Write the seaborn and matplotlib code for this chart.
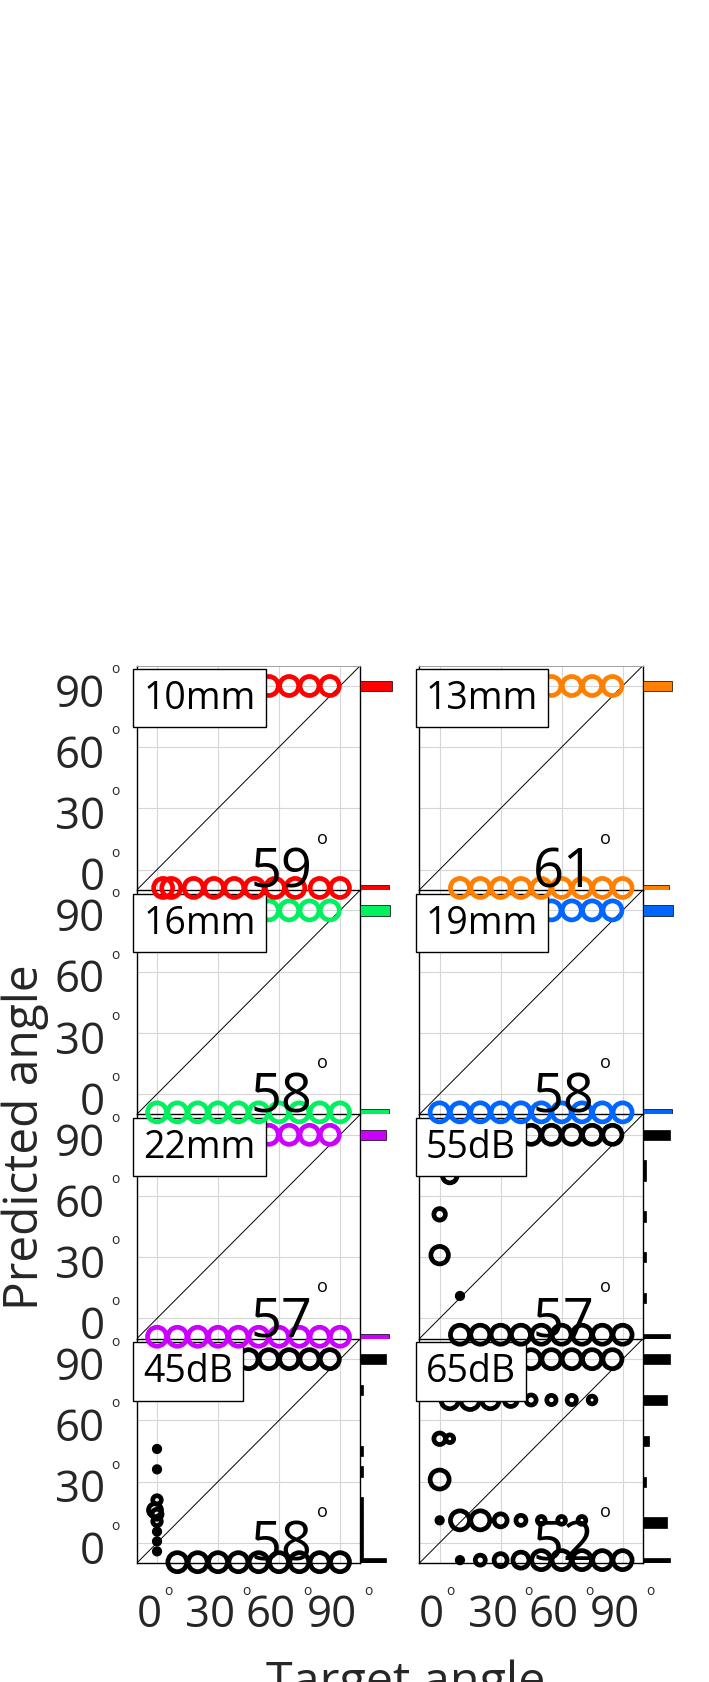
import numpy as np
import matplotlib
matplotlib.use('Agg')
import matplotlib.pyplot as plt
import matplotlib.transforms as mtransforms
import seaborn as sns

# ==============================
# 1. Data
# ==============================
panel_labels = ['10mm', '13mm', '16mm', '19mm', '22mm', '55dB', '45dB', '65dB']
panel_colors = ['#ff0000', '#ff8000', '#00f060', '#0066ff', '#cc00ff',
                '#000000', '#000000', '#000000']
panel_scores = [59, 61, 58, 58, 57, 57, 58, 52]

tick_values = [0, 30, 60, 90]
tick_labels = ['0', '30', '60', '90']

# target angle / predicted angle / number of responses (marker size)
x_10mm = [5, 15, 25, 35, 45, 55, 65, 75, 85, 3, 7, 18, 28, 38, 48, 58, 68, 80, 90]
y_10mm = [90, 90, 90, 90, 90, 90, 90, 90, 90, -9, -9, -9, -9, -9, -9, -9, -9, -9, -9]
n_10mm = [10, 10, 10, 10, 10, 10, 10, 10, 10, 10, 10, 10, 10, 10, 10, 10, 10, 10, 10]

x_13mm = [5, 15, 25, 35, 45, 55, 65, 75, 85, 10, 20, 30, 40, 50, 60, 70, 80, 90]
y_13mm = [90, 90, 90, 90, 90, 90, 90, 90, 90, -9, -9, -9, -9, -9, -9, -9, -9, -9]
n_13mm = [10, 10, 10, 10, 10, 10, 10, 10, 10, 10, 10, 10, 10, 10, 10, 10, 10, 10]

x_16mm = [5, 15, 25, 35, 45, 55, 65, 75, 85, 0, 10, 20, 30, 40, 50, 60, 70, 80, 90]
y_16mm = [90, 90, 90, 90, 90, 90, 90, 90, 90, -9, -9, -9, -9, -9, -9, -9, -9, -9, -9]
n_16mm = [10, 10, 10, 10, 10, 10, 10, 10, 10, 10, 10, 10, 10, 10, 10, 10, 10, 10, 10]

x_19mm = [5, 15, 25, 35, 45, 55, 65, 75, 85, 0, 10, 20, 30, 40, 50, 60, 70, 80, 90]
y_19mm = [90, 90, 90, 90, 90, 90, 90, 90, 90, -9, -9, -9, -9, -9, -9, -9, -9, -9, -9]
n_19mm = [10, 10, 10, 10, 10, 10, 10, 10, 10, 10, 10, 10, 10, 10, 10, 10, 10, 10, 10]

x_22mm = [5, 15, 25, 35, 45, 55, 65, 75, 85, 0, 10, 20, 30, 40, 50, 60, 70, 80, 90]
y_22mm = [90, 90, 90, 90, 90, 90, 90, 90, 90, -9, -9, -9, -9, -9, -9, -9, -9, -9, -9]
n_22mm = [10, 10, 10, 10, 10, 10, 10, 10, 10, 10, 10, 10, 10, 10, 10, 10, 10, 10, 10]

x_55dB = [5, 15, 25, 35, 45, 55, 65, 75, 85, 5, 0, 0, 10,
          10, 20, 30, 40, 50, 60, 70, 80, 90]
y_55dB = [90, 90, 90, 90, 90, 90, 90, 90, 90, 70, 51, 31, 11,
          -8, -8, -8, -8, -8, -8, -8, -8, -8]
n_55dB = [10, 10, 10, 10, 10, 10, 10, 10, 10, 7, 5, 9, 1,
          10, 10, 10, 10, 10, 10, 10, 10, 10]

x_45dB = [5, 15, 25, 35, 45, 55, 65, 75, 85, 0, 0, 0, -1, 0, 0, 0, 0, 0,
          10, 20, 30, 40, 50, 60, 70, 80, 90]
y_45dB = [90, 90, 90, 90, 90, 90, 90, 90, 90, 46, 36, 21, 16, 14, 10.5, 5.5, 0.7, -4.2,
          -9.5, -9.5, -9.5, -9.5, -9.5, -9.5, -9.5, -9.5, -9.5]
n_45dB = [10, 10, 10, 10, 10, 10, 10, 10, 10, 1, 1, 3, 6, 4, 3, 1, 1, 1,
          10, 10, 10, 10, 10, 10, 10, 10, 10]

x_65dB = [5, 15, 25, 35, 45, 55, 65, 75, 85,
          5, 15, 25, 35, 45, 55, 65, 75,
          0, 5, 0,
          0, 10, 20, 30, 40, 50, 60, 70,
          10, 20, 30, 40, 50, 60, 70, 80, 90]
y_65dB = [90, 90, 90, 90, 90, 90, 90, 90, 90,
          70, 70, 70, 70, 70, 70, 70, 70,
          51, 51, 31,
          11, 11, 11, 11, 11, 11, 11, 11,
          -8.5, -8.5, -8.5, -8.5, -8.5, -8.5, -8.5, -8.5, -8.5]
n_65dB = [10, 10, 10, 10, 10, 10, 10, 10, 10,
          9, 10, 9, 6, 4, 3.5, 3.5, 2.5,
          5, 2.5, 10,
          1, 10, 10, 6, 4, 2.5, 2.5, 2.5,
          1, 4, 6, 8, 10, 10, 10, 10, 10]

# marginal histograms of predicted angle (bin centre, count)
hy_10mm, hc_10mm = [90, -10], [10.7, 9.6]
hy_13mm, hc_13mm = [90, -10], [9.8, 8.8]
hy_16mm, hc_16mm = [90, -10], [10.0, 9.6]
hy_19mm, hc_19mm = [90, -10], [10.0, 9.8]
hy_22mm, hc_22mm = [90, -10], [8.7, 9.5]
hy_55dB, hc_55dB = [90, 75, 70, 50, 30, 10, -10], [9, 1, 1, 1, 1, 1, 9]
hy_45dB = [90, 75, 45, 35, 20, 15, 10, 5, 0, -5, -10]
hc_45dB = [8.7, 1, 1, 1, 0.9, 0.9, 0.9, 0.9, 0.9, 0.9, 8.7]
hy_65dB, hc_65dB = [90, 70, 50, 30, 10, -10], [9, 8, 2, 1.1, 8, 9]

points = [(x_10mm, y_10mm, n_10mm), (x_13mm, y_13mm, n_13mm),
          (x_16mm, y_16mm, n_16mm), (x_19mm, y_19mm, n_19mm),
          (x_22mm, y_22mm, n_22mm), (x_55dB, y_55dB, n_55dB),
          (x_45dB, y_45dB, n_45dB), (x_65dB, y_65dB, n_65dB)]
hists = [(hy_10mm, hc_10mm), (hy_13mm, hc_13mm), (hy_16mm, hc_16mm),
         (hy_19mm, hc_19mm), (hy_22mm, hc_22mm), (hy_55dB, hc_55dB),
         (hy_45dB, hc_45dB), (hy_65dB, hc_65dB)]

# ==============================
# 2. Style / layout
# ==============================
sns.set_style('white')
plt.rcParams['font.family'] = ['Open Sans', 'DejaVu Sans']
grey = '#262626'

W, H = 709, 1683
fig = plt.figure(figsize=(W / 100, H / 100), dpi=100)

col_left = [136.7, 419.3]
row_bottom = [891.0, 1115.4, 1339.8, 1564.2]
ax_w, ax_h, hist_w = 223.6, 224.4, 36.0
lims = (-10, 100)


def px_shift(dx, dy):
    return mtransforms.ScaledTranslation(dx / 100, dy / 100, fig.dpi_scale_trans)


def marker_area(n):
    # ring diameter in pixels grows with the number of responses
    d_px = 5.5 + 1.5 * (n - 1)
    return (d_px * 0.72) ** 2


# ==============================
# 3. Panels
# ==============================
for i, lab in enumerate(panel_labels):
    r, c = divmod(i, 2)
    left, bottom = col_left[c], row_bottom[r]
    col = panel_colors[i]

    ax = fig.add_axes([left / W, 1 - bottom / H, ax_w / W, ax_h / H])
    ax.set_zorder(10 - r)
    ax.set_xlim(lims)
    ax.set_ylim(lims)
    ax.set_xticks(tick_values)
    ax.set_yticks(tick_values)
    ax.grid(True, color='#d6d6d6', lw=0.8)
    ax.set_axisbelow(True)
    for sp in ax.spines.values():
        sp.set_color('k')
        sp.set_linewidth(1.0)
    ax.spines['top'].set_color('#a0a0a0')
    ax.spines['top'].set_linewidth(0.7)
    ax.tick_params(direction='in', length=3, width=0.8, color='k',
                   labelsize=31.5, labelcolor=grey)
    ax.tick_params(axis='y', pad=23)
    ax.tick_params(axis='x', pad=21)
    ax.set_yticklabels(tick_labels if c == 0 else [])
    ax.set_xticklabels(tick_labels if r == 3 else [])
    for t in ax.get_xticklabels():
        t.set_transform(t.get_transform() + px_shift(-8, 0))
    for t in ax.get_yticklabels():
        t.set_transform(t.get_transform() + px_shift(0, -3))

    # identity line
    ax.plot(lims, lims, color='k', lw=0.7, zorder=2)

    xs, ys, ns = points[i]
    size_map = {n: marker_area(n) for n in ns}
    sns.scatterplot(x=xs, y=ys, size=ns, sizes=size_map, ax=ax, marker='o',
                    color=col, facecolor='none', edgecolor=col, linewidth=3.4,
                    clip_on=False, legend=False, zorder=3)

    # score with degree ring
    ax.text(61, -8.4, str(panel_scores[i]), ha='center', va='baseline',
            fontsize=39, color='k', zorder=5)
    ax.text(81.6, 13.2, 'o', ha='center', va='baseline', fontsize=13,
            color='k', zorder=5)

    # panel label
    ax.text(0.03, 0.939, lab, transform=ax.transAxes, ha='left', va='top',
            fontsize=27, color='k', zorder=6,
            bbox=dict(boxstyle='square,pad=0.27', fc='white', ec='k', lw=1.0))

    # degree rings on tick labels
    if c == 0:
        tr = mtransforms.blended_transform_factory(ax.transAxes, ax.transData)
        for t in tick_values:
            ax.text(-0.097, t, 'o', transform=tr + px_shift(0, 14), ha='center',
                    va='baseline', fontsize=10, color=grey, clip_on=False)
    if r == 3:
        tr = mtransforms.blended_transform_factory(ax.transData, ax.transAxes)
        for t, tl in zip(tick_values, tick_labels):
            dx = 11 if len(tl) == 1 else 28
            ax.text(t, -0.136, 'o', transform=tr + px_shift(dx, 0), ha='center',
                    va='baseline', fontsize=10, color=grey, clip_on=False)

    # marginal histogram
    hx = fig.add_axes([(left + ax_w) / W, 1 - bottom / H, hist_w / W, ax_h / H])
    hx.set_zorder(10 - r)
    hy, hc = hists[i]
    hx.barh(hy, hc, height=5, color=col, edgecolor='k', linewidth=0.5)
    hx.set_xlim(0, 12)
    hx.set_ylim(lims)
    hx.axis('off')

# axis labels
fig.text(25 / W, 1 - 1137 / H, 'Predicted angle', rotation=90, ha='center',
         va='center', fontsize=34.5, color=grey)
fig.text(406 / W, 1 - 1660 / H, 'Target angle', ha='center', va='top',
         fontsize=34.8, color=grey)

fig.savefig('out.png', dpi=100)
